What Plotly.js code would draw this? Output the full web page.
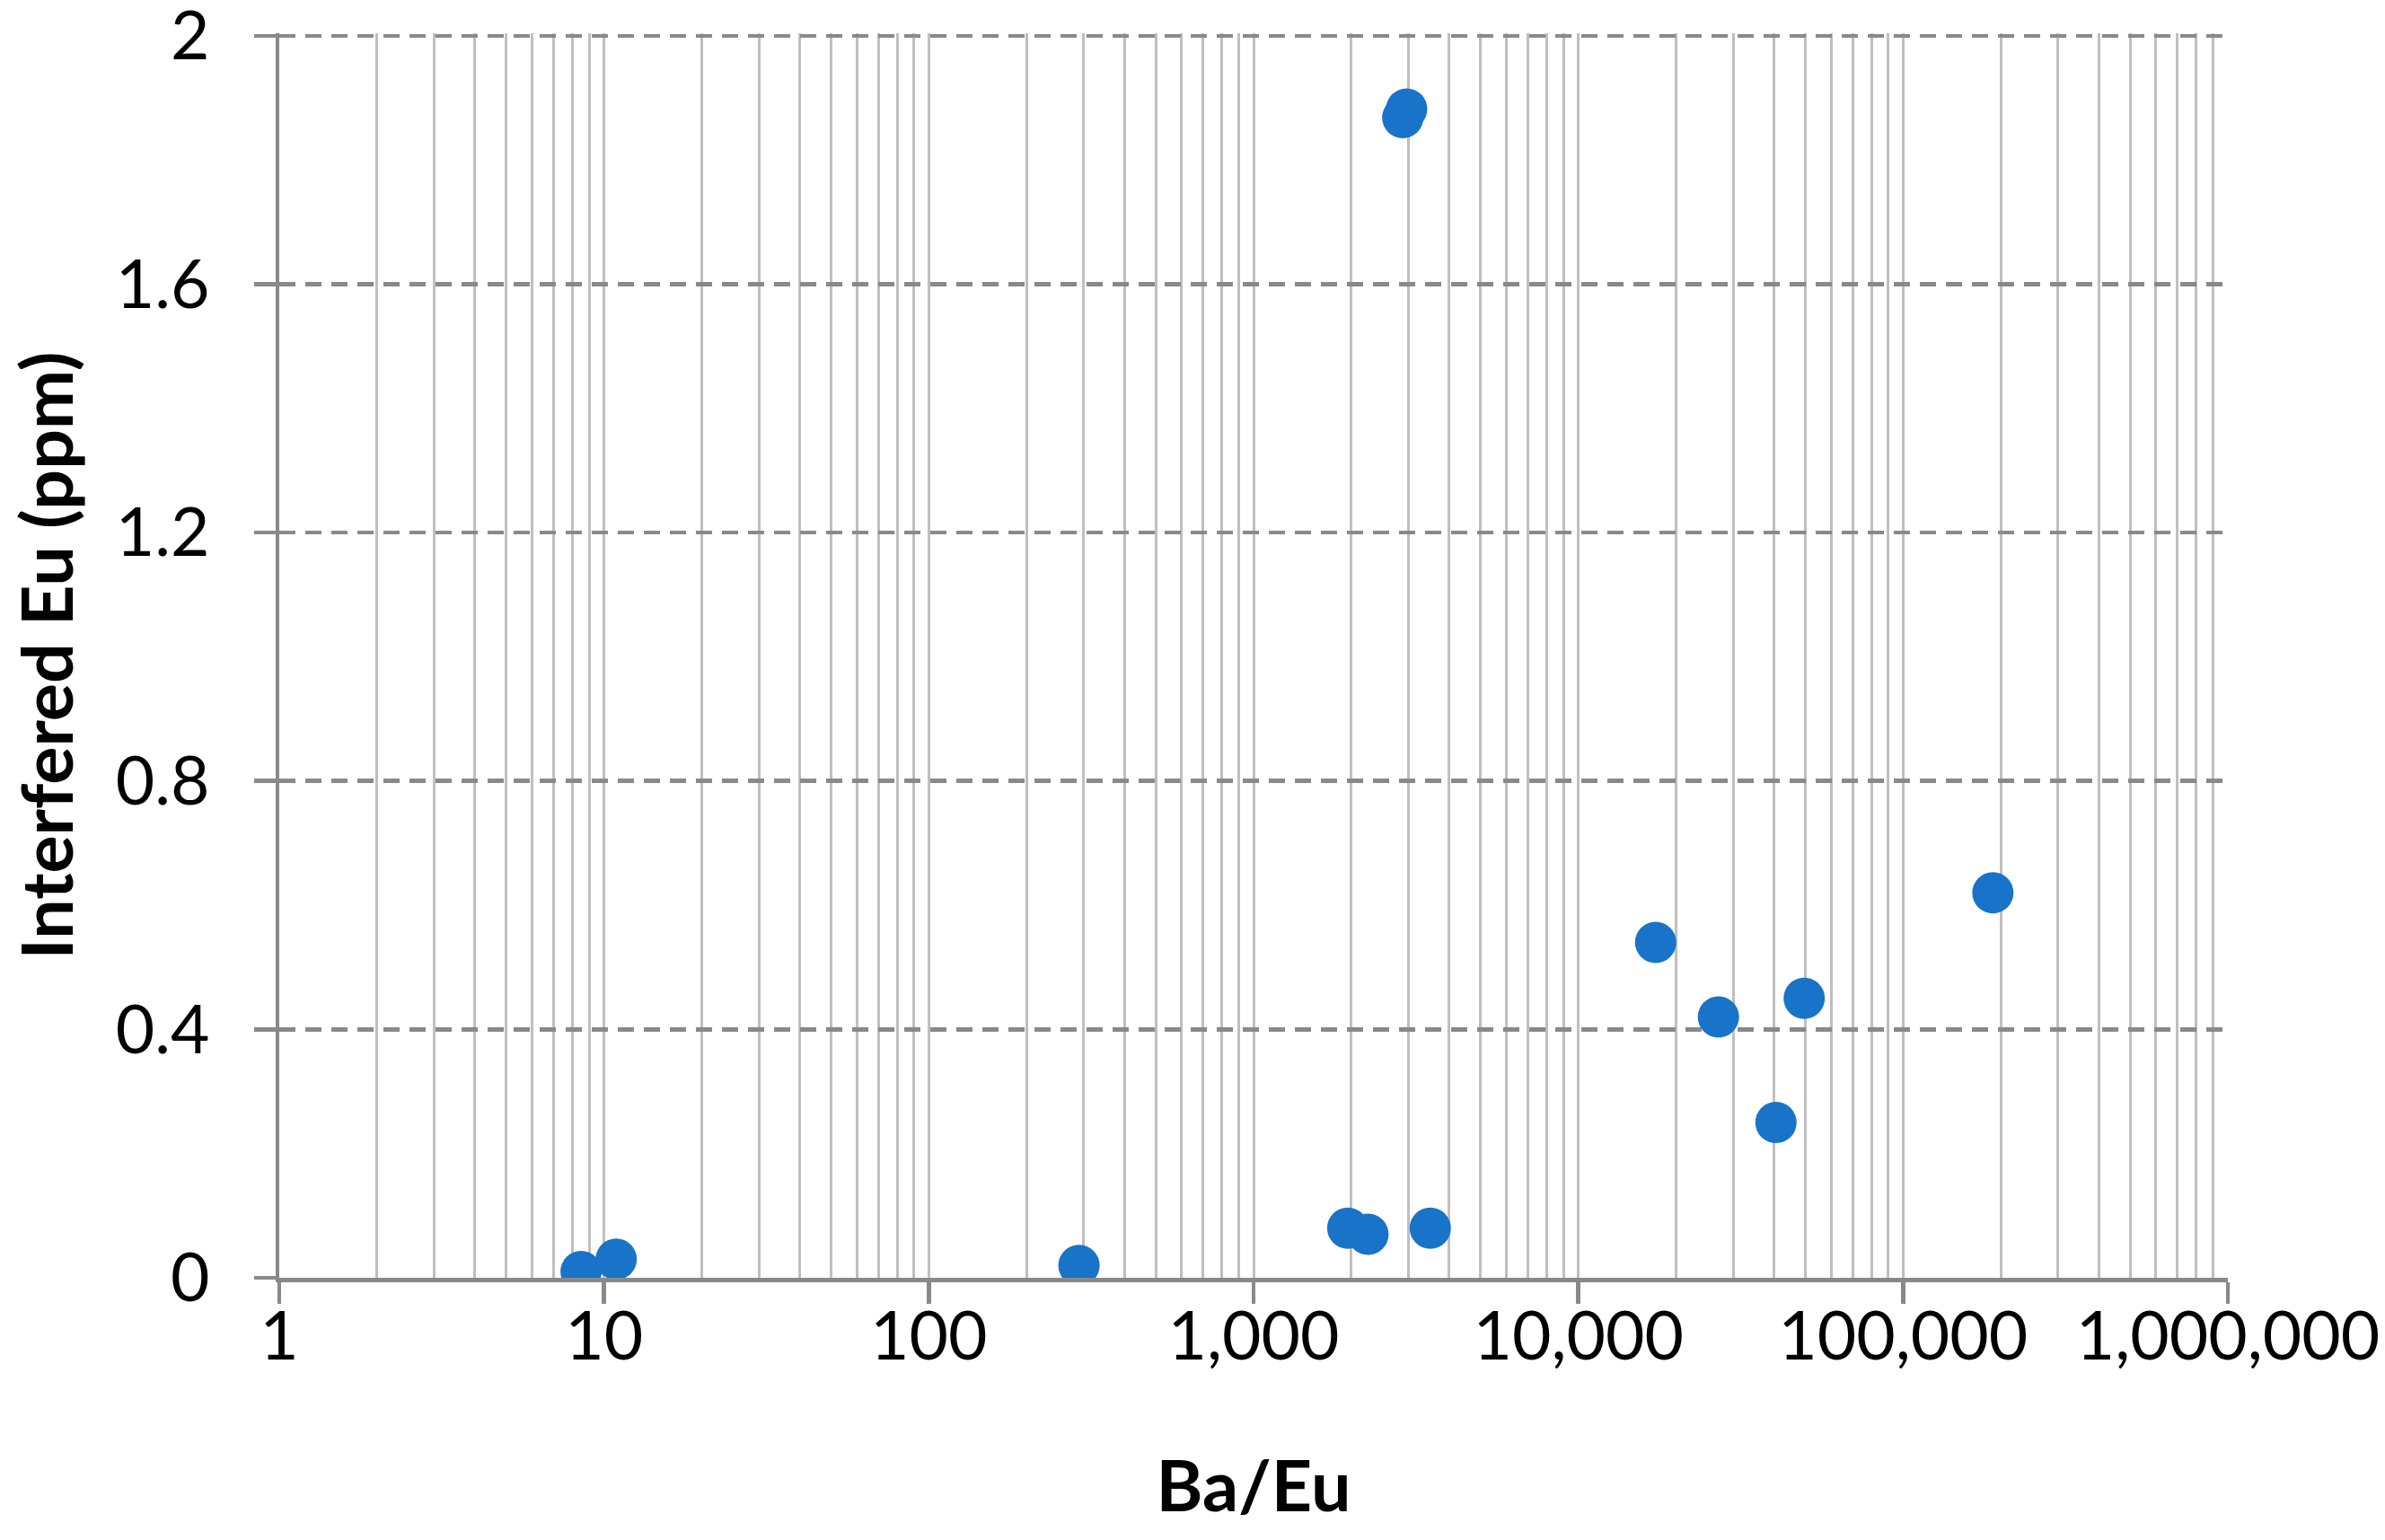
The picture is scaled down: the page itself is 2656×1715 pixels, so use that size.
<!DOCTYPE html>
<html>
<head>
<meta charset="utf-8">
<script src="https://cdn.plot.ly/plotly-3.0.1.min.js"></script>
<style>html,body{margin:0;padding:0;background:#fff;}#chart{width:2656px;height:1715px;}</style>
</head>
<body>
<div id="chart"></div>
<script>
// Data
const baEuRatio = [8.5, 10.9, 290, 1950, 2250, 3500, 2880, 2960, 17300, 27000, 40600, 49600, 189000];
const interferedEu = [0.010, 0.030, 0.020, 0.080, 0.070, 0.080, 1.868, 1.882, 0.540, 0.420, 0.250, 0.450, 0.620];

const xTickVals = [1, 10, 100, 1000, 10000, 100000, 1000000];
const xTickText = ["1", "10", "100", "1,000", "10,000", "100,000", "1,000,000"];
const yTickVals = [0, 0.4, 0.8, 1.2, 1.6, 2];
const yTickText = ["0", "0.4", "0.8", "1.2", "1.6", "2"];

const xTitle = "Ba/Eu";
const yTitle = "Interfered Eu (ppm)";

const FONT = "Lato, 'Open Sans', sans-serif";
const AXIS_COLOR = "#898989";

const trace = {
  type: "scatter",
  mode: "markers",
  x: baEuRatio,
  y: interferedEu,
  marker: { size: 46, color: "#1873C9", line: { width: 0 } },
  hoverinfo: "x+y"
};

const layout = {
  width: 2656,
  height: 1715,
  margin: { l: 311, r: 175, t: 37, b: 292 },
  paper_bgcolor: "#ffffff",
  plot_bgcolor: "#ffffff",
  showlegend: false,
  font: { family: FONT, color: "#000000", size: 75 },
  xaxis: {
    type: "log",
    range: [0, 6],
    tickmode: "array",
    tickvals: xTickVals,
    ticktext: xTickText,
    tickfont: { family: FONT, size: 75, color: "#000" },
    ticklabelstandoff: -28,
    ticklabeloverflow: "allow",
    ticks: "outside",
    ticklen: 24,
    tickwidth: 4.5,
    tickcolor: AXIS_COLOR,
    showline: true,
    linecolor: AXIS_COLOR,
    linewidth: 4.5,
    showgrid: true,
    gridcolor: "#BFBFBF",
    gridwidth: 3,
    zeroline: false,
    minor: { dtick: "D1", showgrid: true, gridcolor: "#BFBFBF", gridwidth: 3, ticks: "" },
    title: { text: xTitle, font: { family: FONT, size: 79, color: "#000", weight: "bold" }, standoff: 100 },
    automargin: false
  },
  yaxis: {
    range: [0, 2.004],
    tickmode: "array",
    tickvals: yTickVals,
    ticktext: yTickText,
    tickfont: { family: FONT, size: 75, color: "#000" },
    ticklabelstandoff: 34,
    ticklabeloverflow: "allow",
    ticks: "outside",
    ticklen: 24,
    tickwidth: 4.5,
    tickcolor: AXIS_COLOR,
    showline: true,
    linecolor: AXIS_COLOR,
    linewidth: 4.5,
    showgrid: true,
    gridcolor: AXIS_COLOR,
    gridwidth: 4.5,
    griddash: "18px,11px",
    zeroline: false,
    title: { text: yTitle, font: { family: FONT, size: 79, color: "#000", weight: "bold" }, standoff: 22 },
    automargin: false
  }
};

Plotly.newPlot("chart", [trace], layout, { displayModeBar: false, staticPlot: true });
</script>
</body>
</html>
